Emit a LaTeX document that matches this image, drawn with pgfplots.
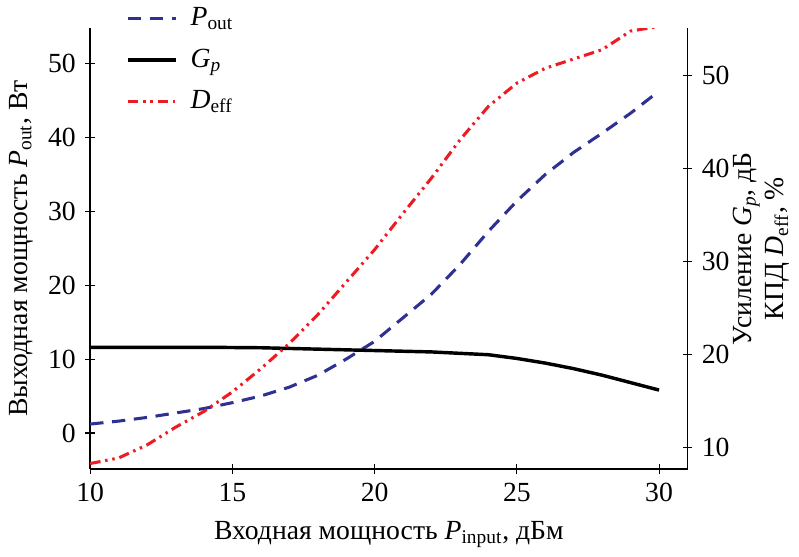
\documentclass[border=0pt]{standalone}
\usepackage{pgfplots}
\pgfplotsset{compat=1.18}
\usepackage{fontspec}
\setmainfont{Liberation Serif}

\definecolor{poutblue}{RGB}{46,49,146}
\definecolor{deffred}{RGB}{237,28,36}

\pgfplotsset{
  twin/.style={
    scale only axis, width=313pt, height=231pt,
    xmin=10, xmax=31,
    tick align=inside, major tick length=5pt,
    tick style={line width=0.6pt, black},
    /pgf/number format/assume math mode=true,
  },
  noarrow/.style={axis line style={-, line width=0.7pt}},
  leg/.style={legend image code/.code={\draw[##1] (0pt,0pt) -- (25pt,0pt); \path (30pt,0pt);}},
  pout/.style={poutblue, line width=1.6pt, dash pattern=on 7pt off 4.5pt, leg},
  gp/.style={black, line width=1.8pt, leg},
  deff/.style={deffred, line width=1.6pt,
    dash pattern=on 5.5pt off 2.5pt on 1.3pt off 2.5pt on 1.3pt off 2.5pt, leg},
}

\begin{document}
\fontsize{14.5}{17}\selectfont
\begin{tikzpicture}
\begin{axis}[
  twin,
  ymin=-4.9, ymax=54.8,
  axis x line=bottom, axis y line=left, noarrow,
  xtick={10,15,...,30}, ytick={0,10,...,50},
  xlabel={Входная мощность \textit{P}\textsubscript{input}, дБм},
  ylabel={Выходная мощность \textit{P}\textsubscript{out}, Вт},
  ylabel style={yshift=-2pt},
]
\addplot[pout] coordinates {
  (10,1.2)(11,1.6)(12,2.1)(13,2.7)(14,3.3)(15,4.1)(16,5.0)(17,6.2)
  (18,7.8)(19,10.0)(20,12.4)(21,15.6)(22,18.8)(23,22.8)(24,27.3)
  (25,31.4)(26,35.0)(27,38.0)(28,40.6)(29,43.3)(30,46.3)
};
\end{axis}

\begin{axis}[
  twin,
  ymin=7.7, ymax=55.1,
  axis x line=none, axis y line=right, noarrow,
  ytick={10,20,...,50},
  ylabel={Усиление \textit{G\textsubscript{p}}, дБ\\КПД \textit{D}\textsubscript{eff}, \%},
  ylabel style={align=center, yshift=8pt},
  legend cell align=left,
  legend style={draw=none, fill=none, at={(0.05,1.065)}, anchor=north west,
    row sep=6pt, font=\fontsize{14.5}{17}\selectfont},
]
\addlegendimage{pout}
\addlegendentry{\textit{P}\textsubscript{out}}
\addplot[gp] coordinates {
  (10,20.8)(12,20.8)(14,20.8)(16,20.75)(18,20.6)(20,20.45)(22,20.3)
  (24,20.0)(25,19.6)(26,19.1)(27,18.5)(28,17.8)(29,17.0)(30,16.2)
};
\addlegendentry{\textit{G\textsubscript{p}}}
\addplot[deff] coordinates {
  (10,8.3)(11,8.9)(12,10.3)(13,12.2)(14,13.9)(15,16.0)(16,18.5)(17,21.2)
  (18,24.3)(19,27.8)(20,31.3)(21,35.2)(22,39.0)(23,43.1)(24,46.7)
  (25,49.2)(26,50.8)(27,51.8)(28,52.8)(29,54.8)(30,55.3)
};
\addlegendentry{\textit{D}\textsubscript{eff}}
\end{axis}
\end{tikzpicture}
\end{document}
